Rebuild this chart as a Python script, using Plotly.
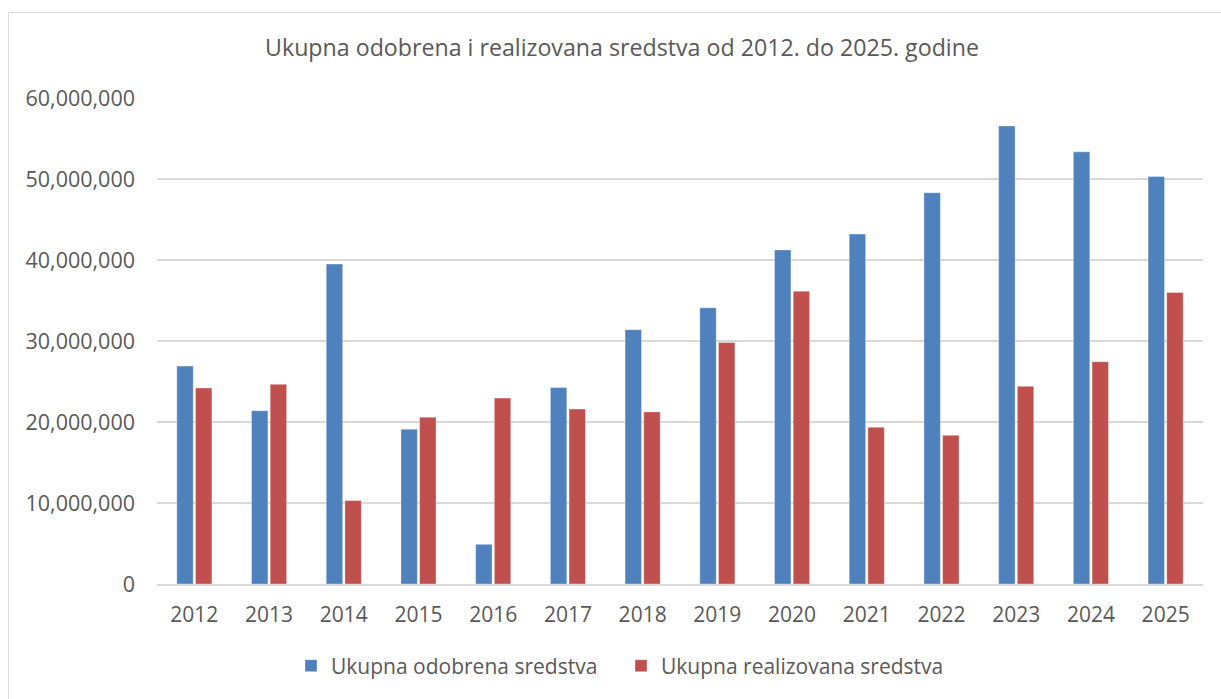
import plotly.graph_objects as go

years = ["2012", "2013", "2014", "2015", "2016", "2017", "2018",
         "2019", "2020", "2021", "2022", "2023", "2024", "2025"]
odobrena = [26.9e6, 21.4e6, 39.5e6, 19.1e6, 4.9e6, 24.25e6, 31.4e6,
            34.1e6, 41.25e6, 43.2e6, 48.3e6, 56.55e6, 53.35e6, 50.3e6]
realizovana = [24.2e6, 24.65e6, 10.3e6, 20.6e6, 22.95e6, 21.6e6, 21.25e6,
               29.8e6, 36.15e6, 19.35e6, 18.35e6, 24.4e6, 27.45e6, 36.0e6]
y_ticks = [0, 10e6, 20e6, 30e6, 40e6, 50e6, 60e6]

W, H = 1221, 699
L, R, T, B = 157, 18, 98, 115
pw, ph = W - L - R, H - T - B
FONT = "Open Sans"
TXT = "#595959"

fig = go.Figure()
fig.add_trace(go.Bar(x=years, y=odobrena, name="Ukupna odobrena sredstva",
                     marker=dict(color="#4F81BD", line=dict(color="rgba(255,255,255,0.45)", width=0.8))))
fig.add_trace(go.Bar(x=years, y=realizovana, name="Ukupna realizovana sredstva",
                     marker=dict(color="#C0504D", line=dict(color="rgba(255,255,255,0.45)", width=0.8))))

def px_x(p):
    return (p - L) / pw

def px_y(p):
    return (H - B - p) / ph

fig.update_layout(
    width=W, height=H,
    margin=dict(l=L, r=R, t=T, b=B),
    paper_bgcolor="white", plot_bgcolor="white",
    barmode="group", bargap=0.5, bargroupgap=0.12,
    font=dict(family=FONT, color=TXT, size=21),
    title=dict(text="Ukupna odobrena i realizovana sredstva od 2012. do 2025. godine",
               x=622 / W, xanchor="center", xref="container",
               y=1 - 48 / H, yanchor="middle", yref="container",
               font=dict(family=FONT, size=23.2, color=TXT)),
    showlegend=True,
    legend=dict(orientation="h", x=px_x(621), xanchor="center",
                y=px_y(666), yanchor="middle",
                font=dict(family=FONT, size=21, color=TXT),
                entrywidth=285, entrywidthmode="pixels",
                bgcolor="rgba(0,0,0,0)", itemclick=False),
    xaxis=dict(showgrid=False, showline=True, linecolor="#D9D9D9", linewidth=1.5,
               ticks="", tickfont=dict(family=FONT, size=21, color=TXT),
               ticklabelstandoff=11, fixedrange=True),
    yaxis=dict(range=[0, 60e6], tickvals=y_ticks,
               ticktext=[f"{v:,.0f}" for v in y_ticks],
               showgrid=True, gridcolor="#D9D9D9", gridwidth=1.5,
               zeroline=False, showline=False, ticks="",
               tickfont=dict(family=FONT, size=21.5, color=TXT),
               ticklabelstandoff=21, fixedrange=True),
    shapes=[dict(type="rect", xref="paper", yref="paper",
                 x0=px_x(8.5), x1=px_x(1230), y0=px_y(12.5), y1=px_y(710),
                 line=dict(color="#D9D9D9", width=1), fillcolor="rgba(0,0,0,0)",
                 layer="below")],
)

fig.write_html("out.html", config={"displayModeBar": False},
               post_script="document.body.style.margin='0';document.body.style.overflow='hidden';")
